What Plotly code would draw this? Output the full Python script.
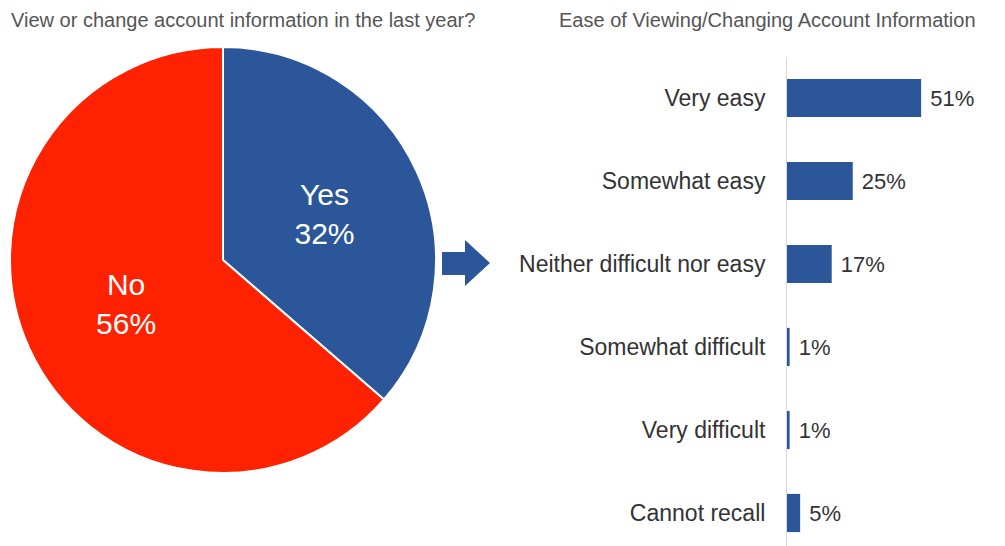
import plotly.graph_objects as go

# ---- data ----
pie_labels = ["Yes", "No"]
pie_values = [32, 56]
pie_colors = ["#2B579A", "#FF2200"]

bar_categories = ["Very easy", "Somewhat easy", "Neither difficult nor easy",
                  "Somewhat difficult", "Very difficult", "Cannot recall"]
bar_values = [51, 25, 17, 1, 1, 5]

left_title = "View or change account information in the last year?"
right_title = "Ease of Viewing/Changing Account Information"

# page has an 8px body margin; map reference pixel coords to paper coords
OFF = 8
W, H = 1005 - OFF, 546 - OFF
def px(x):
    return (x - OFF) / W
def py(y):
    return 1 - (y - OFF) / H

fig = go.Figure()

fig.add_trace(go.Pie(
    labels=pie_labels,
    values=pie_values,
    sort=False,
    direction="clockwise",
    rotation=0,
    marker=dict(colors=pie_colors, line=dict(color="white", width=2)),
    texttemplate="%{label}<br>%{value}%",
    textposition="inside",
    insidetextorientation="horizontal",
    textfont=dict(color="white", size=30, family="Liberation Sans"),
    domain=dict(x=[px(10), px(436)], y=[py(473), py(47)]),
    showlegend=False,
    hoverinfo="skip",
))

fig.add_trace(go.Bar(
    x=bar_values,
    y=bar_categories,
    orientation="h",
    marker=dict(color="#2B579A", line=dict(width=0)),
    text=[f"\u00a0{v}%" for v in bar_values],
    textposition="outside",
    cliponaxis=False,
    textfont=dict(color="#333333", size=22, family="Liberation Sans"),
    xaxis="x", yaxis="y",
    showlegend=False,
    hoverinfo="skip",
))

row0, step = 98, 83
fig.update_layout(
    width=W, height=H,
    margin=dict(l=0, r=0, t=0, b=0),
    paper_bgcolor="white",
    plot_bgcolor="white",
    bargap=0.54,
    xaxis=dict(domain=[px(787), 1.0], range=[0, (1005 - 787) / 2.63],
               visible=False, showgrid=False, zeroline=False),
    yaxis=dict(domain=[0, py(56.5)],
               range=[(546 - row0) / step, -0.5],
               showline=True, linecolor="#D9D9D9", linewidth=1,
               showgrid=False, zeroline=False,
               ticks="", ticklabelstandoff=16,
               tickfont=dict(color="#333333", size=23, family="Liberation Sans")),
    font=dict(family="Liberation Sans"),
)

title_font = dict(size=20, color="#555555", family="Liberation Sans")
fig.add_annotation(x=px(9), y=py(20), xref="paper", yref="paper",
                   xanchor="left", yanchor="middle", showarrow=False,
                   text=left_title, font=title_font)
fig.add_annotation(x=px(557), y=py(20), xref="paper", yref="paper",
                   xanchor="left", yanchor="middle", showarrow=False,
                   text=right_title, font=title_font)

arrow = [(442, 252), (465, 252), (465, 240), (490, 263), (465, 286), (465, 275), (442, 275)]
path = "M " + " L ".join(f"{px(x)},{py(y)}" for x, y in arrow) + " Z"
fig.add_shape(type="path", path=path, xref="paper", yref="paper",
              fillcolor="#2B579A", line=dict(width=0))

fig.write_html("out.html")
